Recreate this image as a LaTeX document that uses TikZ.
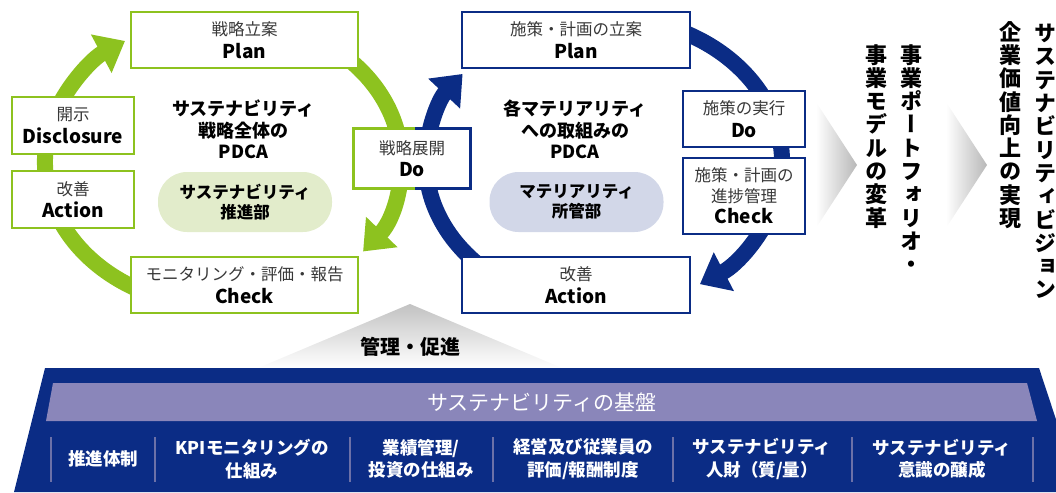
\documentclass[tikz,border=0pt]{standalone}
\usepackage{fontspec}
\setmainfont{Noto Sans CJK JP}
\newfontfamily\vjp[RawFeature=+vert]{Noto Sans CJK JP}
\usetikzlibrary{arrows.meta,shapes.geometric}
\definecolor{gr}{HTML}{8DC21F}
\definecolor{nv}{HTML}{0B2C85}
\definecolor{bandc}{HTML}{8A86BA}
\definecolor{gell}{HTML}{E2ECCB}
\definecolor{bell}{HTML}{D2D7E8}
\definecolor{sepc}{HTML}{6C71A8}
\newcommand{\boxen}[1]{{\color{black}\bfseries\fontsize{19}{22.5}\selectfont #1}}
\begin{document}
\begin{tikzpicture}[x=1pt,y=-1pt,
  gbox/.style={draw=gr, fill=white, line width=2.6pt, inner sep=0pt, align=center,
    font=\fontsize{16.5}{22.5}\selectfont, text=black!78},
  bbox/.style={gbox, draw=nv},
  gring/.style={draw=gr, line width=16pt, -{Triangle[length=27pt,width=42pt]}},
  bring/.style={gring, draw=nv},
  ctitle/.style={align=center, font=\bfseries\fontsize{18}{21.7}\selectfont},
  dept/.style={rounded corners=29pt, minimum width=174pt, minimum height=60pt, inner sep=0pt,
    align=center, font=\bfseries\fontsize{16.5}{20}\selectfont},
  vtext/.style={anchor=north, align=center, inner sep=0pt,
    font=\vjp\bfseries\fontsize{22}{23.3}\selectfont},
  ftext/.style={align=center, text=white, font=\bfseries\fontsize{17.5}{22.5}\selectfont},
  sepl/.style={draw=sepc, line width=1.2pt}
]
\useasboundingbox (0,0) rectangle (1056,492);

% gray triangle behind "management"
\shade[top color=black!24, bottom color=white] (410,304) -- (562,368) -- (258,368) -- cycle;
\node[font=\bfseries\fontsize{20}{24}\selectfont] (mgmt) at (410,347) {管理・促進};

% chevrons
\shade[left color=white, right color=black!28] (816,102) -- (857,165) -- (816,228) -- cycle;
\shade[left color=white, right color=black!28] (946,102) -- (987,165) -- (946,228) -- cycle;

% foundation
\fill[nv] (45,368) -- (1039,368) -- (1080,492) -- (14,492) -- cycle;
\fill[bandc] (53,383) -- (1027,383) -- (1037,421) -- (46,421) -- cycle;
\node[text=white, font=\fontsize{21}{24}\selectfont] (base) at (542,402) {サステナビリティの基盤};
\foreach \sx in {51,155,350,493,673,852,1033} \draw[sepl] (\sx,437) -- (\sx,482);
\node[ftext] (f1) at (103,459) {推進体制};
\node[ftext] (f2) at (252,459) {KPIモニタリングの\\仕組み};
\node[ftext] (f3) at (421,459) {業績管理/\\投資の仕組み};
\node[ftext] (f4) at (583,459) {経営及び従業員の\\評価/報酬制度};
\node[ftext] (f5) at (762,459) {サステナビリティ\\人財（質/量）};
\node[ftext] (f6) at (942,459) {サステナビリティ\\意識の醸成};

% rings
\draw[gring] ([shift={(223,162)}]110:178 and 145) arc[start angle=110, end angle=236.6, x radius=178, y radius=145];
\draw[gring] ([shift={(223,162)}]-70:178 and 145) arc[start angle=-70, end angle=38.1, x radius=178, y radius=145];
\draw[bring] ([shift={(604,162)}]120:178 and 145) arc[start angle=120, end angle=217.4, x radius=178, y radius=145];
\draw[bring] ([shift={(604,162)}]-75:178 and 145) arc[start angle=-75, end angle=57.4, x radius=178, y radius=145];

% green cycle boxes
\node[gbox, minimum width=227pt, minimum height=56pt] (gplan) at (244.5,40) {戦略立案\\\boxen{Plan}};
\node[gbox, minimum width=122pt, minimum height=57pt] (gdisc) at (73,125.5) {開示\\\boxen{Disclosure}};
\node[gbox, minimum width=122pt, minimum height=57pt] (gact) at (73,199.5) {改善\\\boxen{Action}};
\node[gbox, minimum width=227pt, minimum height=56pt] (gcheck) at (244.5,285) {モニタリング・評価・報告\\\boxen{Check}};

% shared Do box
\node[gbox, draw=none, minimum width=114pt, minimum height=57pt] (sdo) at (412,158.5) {戦略展開\\\boxen{Do}};
\draw[gr, line width=2.6pt] ([xshift=3pt]sdo.north) -| (sdo.south west) -- ([xshift=3pt]sdo.south);
\draw[nv, line width=2.6pt] ([xshift=3pt]sdo.north) -| (sdo.south east) -- ([xshift=3pt]sdo.south);

% blue cycle boxes
\node[bbox, minimum width=228pt, minimum height=56pt] (bplan) at (576,40) {施策・計画の立案\\\boxen{Plan}};
\node[bbox, minimum width=122pt, minimum height=56pt] (bdo) at (744,119) {施策の実行\\\boxen{Do}};
\node[bbox, minimum width=122pt, minimum height=76pt, font=\fontsize{16.5}{21}\selectfont] (bcheck) at (744,196) {施策・計画の\\進捗管理\\\boxen{Check}};
\node[bbox, minimum width=228pt, minimum height=56pt] (bact) at (576,285) {改善\\\boxen{Action}};

% centre texts
\node[ctitle] (gtitle) at (243.5,129.5) {サステナビリティ\\戦略全体の\\PDCA};
\node[dept, fill=gell] (gdept) at (245,202) {サステナビリティ\\推進部};
\node[ctitle] (btitle) at (575,129.5) {各マテリアリティ\\への取組みの\\PDCA};
\node[dept, fill=bell] (bdept) at (576.5,202) {マテリアリティ\\所管部};

% vertical texts
\node[vtext] (v1) at (1045,24) {サ\\ス\\テ\\ナ\\ビ\\リ\\テ\\ィ\\ビ\\ジ\\ョ\\ン};
\node[vtext] (v2) at (1010,21) {企\\業\\価\\値\\向\\上\\の\\実\\現};
\node[vtext] (v3) at (911,44) {事\\業\\ポ\\ー\\ト\\フ\\ォ\\リ\\オ\\・};
\node[vtext] (v4) at (876,44) {事\\業\\モ\\デ\\ル\\の\\変\\革};
\end{tikzpicture}
\end{document}
